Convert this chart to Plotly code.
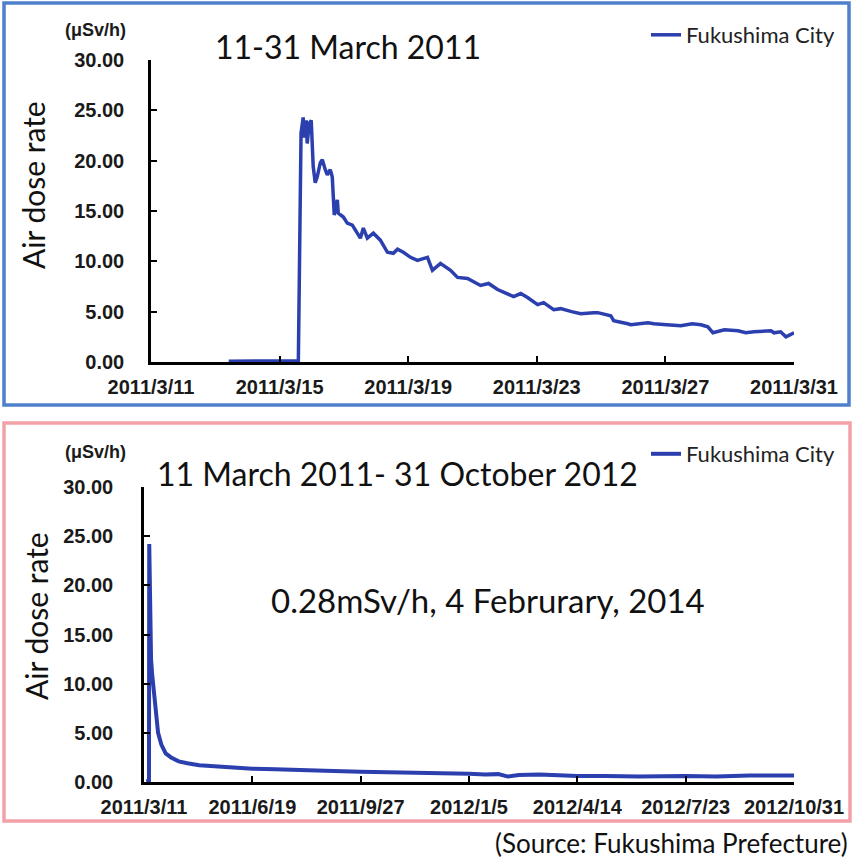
import plotly.graph_objects as go

# ---------------- DATA ----------------
# Top panel: 11-31 March 2011 (values in µSv/h)
top_times = [
    "2011-03-13 10:00", "2011-03-14 06:00", "2011-03-14 20:00", "2011-03-15 14:00",
    "2011-03-15 16:00", "2011-03-15 17:36", "2011-03-15 18:24", "2011-03-15 19:54",
    "2011-03-15 20:36", "2011-03-15 22:06", "2011-03-15 23:36", "2011-03-16 00:24",
    "2011-03-16 01:06", "2011-03-16 02:36", "2011-03-16 04:06", "2011-03-16 06:24",
    "2011-03-16 07:54", "2011-03-16 10:06", "2011-03-16 11:36", "2011-03-16 13:48",
    "2011-03-16 15:18", "2011-03-16 16:06", "2011-03-16 16:48", "2011-03-16 19:06",
    "2011-03-16 19:48", "2011-03-16 23:36", "2011-03-17 02:30", "2011-03-17 06:18",
    "2011-03-17 10:00", "2011-03-17 12:18", "2011-03-17 14:30", "2011-03-17 17:30",
    "2011-03-17 22:00", "2011-03-18 03:12", "2011-03-18 08:30", "2011-03-18 12:54",
    "2011-03-18 16:00", "2011-03-18 20:24", "2011-03-19 01:42", "2011-03-19 06:54",
    "2011-03-19 14:24", "2011-03-19 18:06", "2011-03-20 00:06", "2011-03-20 07:36",
    "2011-03-20 12:48", "2011-03-20 20:18", "2011-03-21 06:00", "2011-03-21 12:00",
    "2011-03-21 18:42", "2011-03-22 06:42", "2011-03-22 12:00", "2011-03-22 17:06",
    "2011-03-23 00:36", "2011-03-23 05:06", "2011-03-23 12:36", "2011-03-23 17:48",
    "2011-03-24 02:00", "2011-03-24 08:48", "2011-03-24 18:30", "2011-03-24 21:30",
    "2011-03-25 07:12", "2011-03-25 09:24", "2011-03-25 19:54", "2011-03-25 22:06",
    "2011-03-26 10:54", "2011-03-26 15:24", "2011-03-27 01:00", "2011-03-27 11:30",
    "2011-03-27 20:00", "2011-03-28 02:30", "2011-03-28 07:42", "2011-03-28 11:30",
    "2011-03-28 20:00", "2011-03-29 06:12", "2011-03-29 12:00", "2011-03-29 18:06",
    "2011-03-30 06:48", "2011-03-30 09:06", "2011-03-30 14:00", "2011-03-30 18:00",
    "2011-03-31 00:00",
]
top_values = [
    0.08, 0.08, 0.09, 0.10,
    22.7, 24.3, 22.3, 24.0,
    21.7, 23.7, 24.0, 21.1,
    19.4, 17.8, 18.4, 19.8,
    20.1, 19.1, 18.6, 19.1,
    18.4, 16.4, 14.6, 16.1,
    14.8, 14.4, 13.8, 13.6,
    12.8, 12.3, 13.3, 12.3,
    12.8, 12.1, 10.9, 10.8,
    11.2, 10.9, 10.4, 10.1,
    10.4, 9.1, 9.8, 9.1,
    8.4, 8.3, 7.6, 7.8,
    7.2, 6.5, 6.8, 6.4,
    5.7, 5.9, 5.2, 5.3,
    5.0, 4.8, 4.9, 4.9,
    4.6, 4.1, 3.8, 3.7,
    3.9, 3.8, 3.7, 3.6,
    3.8, 3.7, 3.5, 2.9,
    3.2, 3.1, 2.9, 3.0,
    3.1, 2.9, 3.0, 2.5,
    2.9,
]
top_tick_dates = ["2011-03-11", "2011-03-15", "2011-03-19", "2011-03-23", "2011-03-27", "2011-03-31"]
top_tick_labels = ["2011/3/11", "2011/3/15", "2011/3/19", "2011/3/23", "2011/3/27", "2011/3/31"]

# Bottom panel: 11 March 2011 - 31 October 2012
bot_times = [
    "2011-03-13", "2011-03-15 14:00", "2011-03-15 20:00", "2011-03-16 12:00",
    "2011-03-17 12:00", "2011-03-18 12:00", "2011-03-20", "2011-03-22",
    "2011-03-24", "2011-03-27", "2011-03-31", "2011-04-05", "2011-04-12",
    "2011-04-20", "2011-05-01", "2011-05-15", "2011-06-01", "2011-06-19",
    "2011-07-10", "2011-08-01", "2011-08-25", "2011-09-27", "2011-10-20",
    "2011-11-15", "2011-12-10", "2011-12-25", "2012-01-05", "2012-01-20",
    "2012-02-01", "2012-02-10", "2012-02-20", "2012-03-10", "2012-04-14",
    "2012-05-10", "2012-06-10", "2012-07-23", "2012-08-20", "2012-09-20",
    "2012-10-31",
]
bot_values = [
    0.08, 0.10, 24.2, 19.0,
    12.5, 11.0, 9.5, 7.0,
    5.0, 3.8, 2.9, 2.5, 2.1,
    1.9, 1.7, 1.6, 1.45, 1.35,
    1.3, 1.2, 1.15, 1.05, 1.0,
    0.95, 0.95, 0.95, 0.85, 0.75,
    0.8, 0.55, 0.7, 0.75, 0.6,
    0.6, 0.55, 0.6, 0.55, 0.65,
    0.65,
]
bot_tick_dates = ["2011-03-11", "2011-06-19", "2011-09-27", "2012-01-05", "2012-04-14", "2012-07-23", "2012-10-31"]
bot_tick_labels = ["2011/3/11", "2011/6/19", "2011/9/27", "2012/1/5", "2012/4/14", "2012/7/23", "2012/10/31"]

y_tick_vals = [0, 5, 10, 15, 20, 25, 30]
series_name = "Fukushima City"

# ---------------- LAYOUT HELPERS ----------------
W, H = 855, 864
def px(x):
    return x / W
def py(y):
    return 1 - y / H

LINE_COLOR = "#2b3fae"
TICK_FONT = dict(family="Liberation Sans, Arial, sans-serif", size=20, color="#1a1a1a", weight="bold")
TEXT_FONT = "Lato, Open Sans, sans-serif"

fig = go.Figure()
fig.add_trace(go.Scatter(x=top_times, y=top_values, mode="lines", name=series_name,
                         line=dict(color=LINE_COLOR, width=3.5), xaxis="x", yaxis="y",
                         legend="legend", showlegend=True))
fig.add_trace(go.Scatter(x=bot_times, y=bot_values, mode="lines", name=series_name,
                         line=dict(color=LINE_COLOR, width=4), xaxis="x2", yaxis="y2",
                         legend="legend2", showlegend=True))

axis_common = dict(showline=True, linecolor="black", linewidth=2.5, showgrid=False,
                   zeroline=False, ticks="inside", ticklen=6, tickwidth=2, tickcolor="black",
                   tickfont=TICK_FONT, automargin=False)

fig.update_layout(
    template="none",
    width=W, height=H, margin=dict(l=0, r=0, t=0, b=0, pad=0, autoexpand=False),
    paper_bgcolor="white", plot_bgcolor="white", showlegend=True,
    xaxis=dict(domain=[px(151), px(794)], anchor="y", type="date",
               range=["2011-03-11", "2011-03-31"], tickvals=top_tick_dates,
               ticktext=top_tick_labels, ticklabelstandoff=5, **axis_common),
    yaxis=dict(domain=[py(362), py(60)], anchor="x", range=[0, 30], tickvals=y_tick_vals,
               tickformat=".2f", ticklabelstandoff=20, **axis_common),
    xaxis2=dict(domain=[px(144), px(794)], anchor="y2", type="date",
                range=["2011-03-11", "2012-10-31"], tickvals=bot_tick_dates,
                ticktext=bot_tick_labels, ticklabelstandoff=5, **axis_common),
    yaxis2=dict(domain=[py(782), py(487)], anchor="x2", range=[0, 30], tickvals=y_tick_vals,
                tickformat=".2f", ticklabelstandoff=24, **axis_common),
    legend=dict(x=px(646), y=py(35), xanchor="left", yanchor="middle", visible=True,
                font=dict(family=TEXT_FONT, size=22, color="#222"), bgcolor="rgba(0,0,0,0)"),
    legend2=dict(x=px(646), y=py(454), xanchor="left", yanchor="middle", visible=True,
                 font=dict(family=TEXT_FONT, size=22, color="#222"), bgcolor="rgba(0,0,0,0)"),
    shapes=[
        dict(type="rect", xref="paper", yref="paper", x0=px(4), x1=px(849), y0=py(405), y1=py(3),
             line=dict(color="#4f80cb", width=3.5)),
        dict(type="rect", xref="paper", yref="paper", x0=px(4), x1=px(850), y0=py(821), y1=py(423),
             line=dict(color="#f4a0a8", width=3.5)),
    ],
)

annots = [
    dict(text="(μSv/h)", x=px(95), y=py(30), font=dict(family="Liberation Sans, Arial", size=18, color="#1a1a1a", weight="bold")),
    dict(text="(μSv/h)", x=px(95), y=py(452), font=dict(family="Liberation Sans, Arial", size=18, color="#1a1a1a", weight="bold")),
    dict(text="11-31 March 2011", x=px(213), y=py(47), xanchor="left", font=dict(family=TEXT_FONT, size=32, color="#111")),
    dict(text="11 March 2011- 31 October 2012", x=px(155), y=py(473), xanchor="left", font=dict(family=TEXT_FONT, size=32, color="#111")),
    dict(text="Air dose rate", x=px(33), y=py(185), textangle=-90, font=dict(family=TEXT_FONT, size=30, color="#111")),
    dict(text="Air dose rate", x=px(36), y=py(616), textangle=-90, font=dict(family=TEXT_FONT, size=30, color="#111")),
    dict(text="0.28mSv/h, 4 Februrary, 2014", x=px(488), y=py(600), font=dict(family=TEXT_FONT, size=33, color="#111")),
    dict(text="(Source: Fukushima Prefecture)", x=px(850), y=py(843), xanchor="right", font=dict(family=TEXT_FONT, size=26, color="#111")),
]
for a in annots:
    a.setdefault("xanchor", "center")
    a.update(xref="paper", yref="paper", yanchor="middle", showarrow=False)
    fig.add_annotation(**a)

fig.write_html("out.html")
